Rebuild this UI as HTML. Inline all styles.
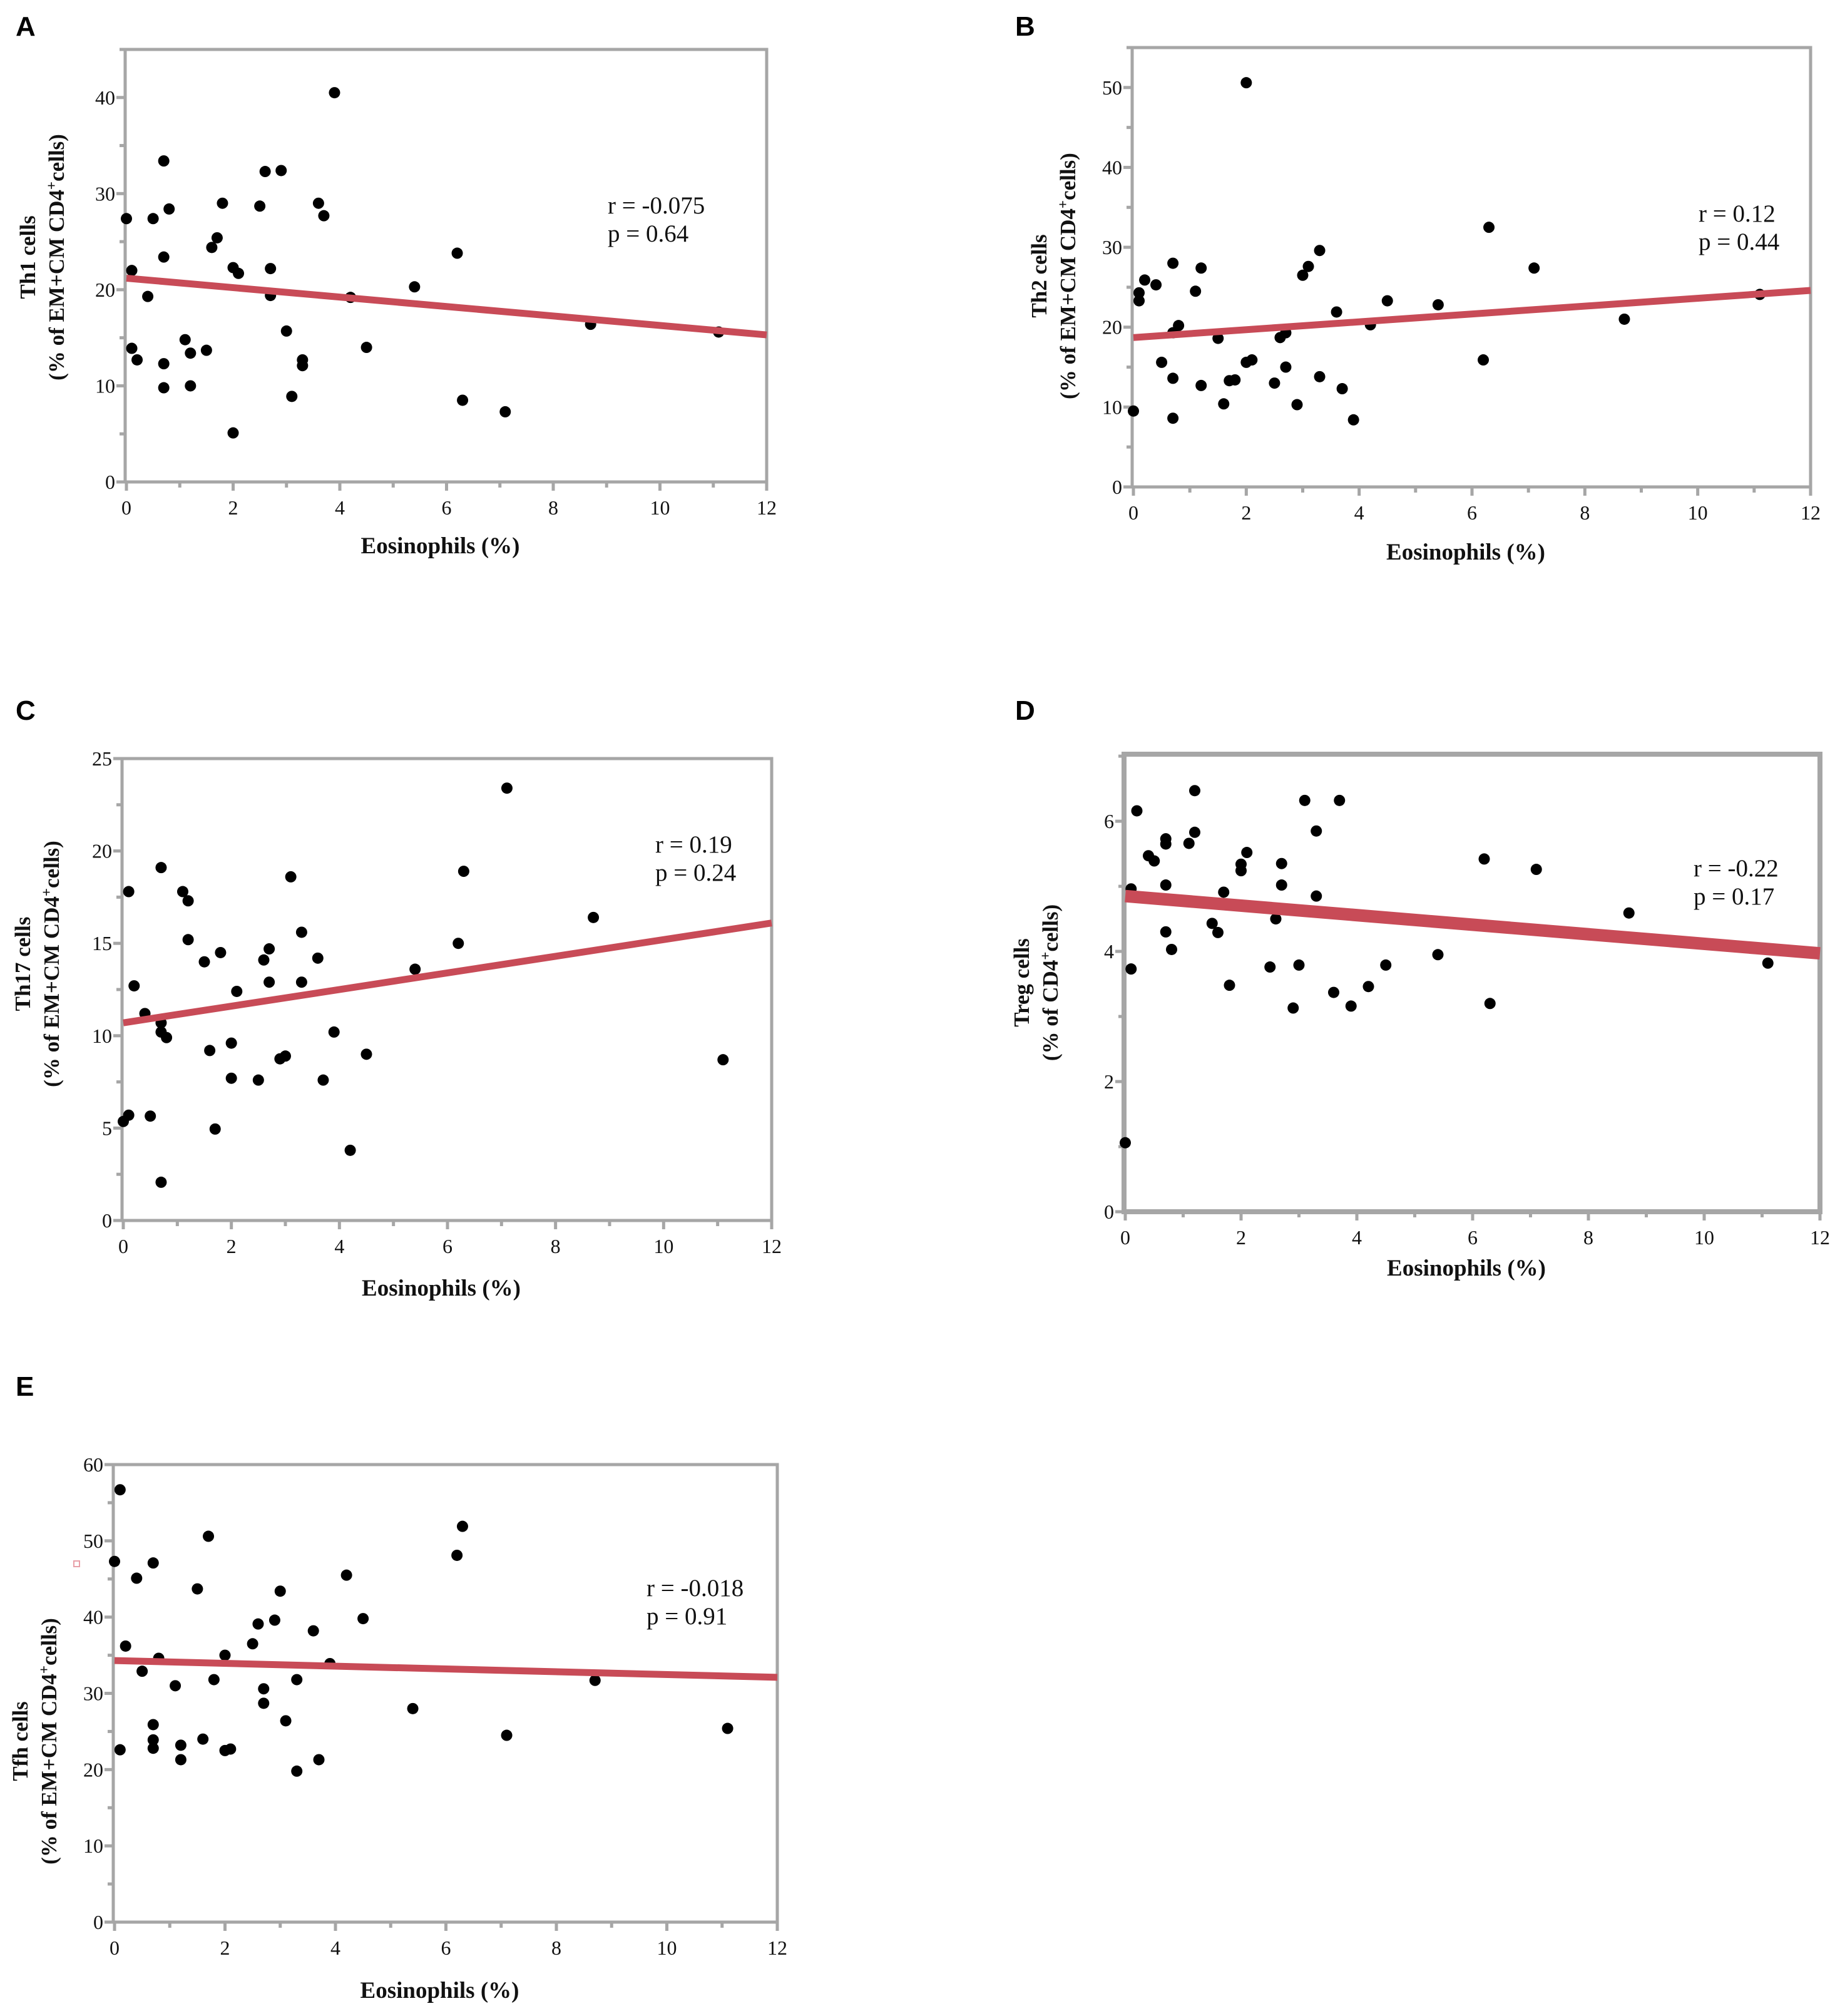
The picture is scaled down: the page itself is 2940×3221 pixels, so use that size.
<!DOCTYPE html>
<html><head><meta charset="utf-8"><style>
html,body{margin:0;padding:0;background:#fff;}
svg{display:block;}
</style></head><body>
<svg id="fig" xmlns="http://www.w3.org/2000/svg" width="2940" height="3221" viewBox="0 0 2940 3221"></svg>
<script>
// ---------- data ----------
const xA = [0,0.1,0.1,0.2,0.4,0.5,0.7,0.7,0.7,0.7,0.8,1.1,1.2,1.2,1.5,1.6,1.7,1.8,2.0,2.0,2.1,2.5,2.6,2.7,2.7,2.9,3.0,3.1,3.3,3.3,3.6,3.7,3.9,4.2,4.5,5.4,6.2,6.3,7.1,8.7,11.1];
const yA = [27.4,22.0,13.9,12.7,19.3,27.4,33.4,23.4,12.3,9.8,28.4,14.8,13.4,10.0,13.7,24.4,25.4,29.0,22.3,5.1,21.7,28.7,32.3,22.2,19.4,32.4,15.7,8.9,12.7,12.1,29.0,27.7,40.5,19.2,14.0,20.3,23.8,8.5,7.3,16.4,15.6];
const fitA = [21.2,15.3];
const xB = [0,0.1,0.1,0.2,0.4,0.5,0.7,0.7,0.7,0.7,0.8,1.1,1.2,1.2,1.5,1.6,1.7,1.8,2.0,2.0,2.1,2.5,2.6,2.7,2.7,2.9,3.0,3.1,3.3,3.3,3.6,3.7,3.9,4.2,4.5,5.4,6.2,6.3,7.1,8.7,11.1];
const yB = [9.5,24.3,23.3,25.9,25.3,15.6,28.0,19.3,13.6,8.6,20.2,24.5,27.4,12.7,18.6,10.4,13.3,13.4,50.6,15.6,15.9,13.0,18.7,19.3,15.0,10.3,26.5,27.6,29.6,13.8,21.9,12.3,8.4,20.3,23.3,22.8,15.9,32.5,27.4,21.0,24.1];
const fitB = [18.7,24.6];
const xC = [0,0.1,0.1,0.2,0.4,0.5,0.7,0.7,0.7,0.7,0.8,1.1,1.2,1.2,1.5,1.6,1.7,1.8,2.0,2.0,2.1,2.5,2.6,2.7,2.7,2.9,3.0,3.1,3.3,3.3,3.6,3.7,3.9,4.2,4.5,5.4,6.2,6.3,7.1,8.7,11.1];
const yC = [5.36,17.8,5.7,12.7,11.2,5.65,19.1,10.7,10.2,2.07,9.9,17.8,17.3,15.2,14.0,9.2,4.95,14.5,9.6,7.7,12.4,7.6,14.1,14.7,12.9,8.75,8.9,18.6,15.6,12.9,14.2,7.6,10.2,3.8,9.0,13.6,15.0,18.9,23.4,16.4,8.7];
const fitC = [10.7,16.1];
const xD = [0,0.1,0.1,0.2,0.4,0.5,0.7,0.7,0.7,0.7,0.8,1.1,1.2,1.2,1.5,1.6,1.7,1.8,2.0,2.0,2.1,2.5,2.6,2.7,2.7,2.9,3.0,3.1,3.3,3.3,3.6,3.7,3.9,4.2,4.5,5.4,6.2,6.3,7.1,8.7,11.1];
const yD = [1.06,4.96,3.73,6.16,5.47,5.39,5.73,5.65,5.02,4.30,4.03,5.66,6.47,5.83,4.43,4.29,4.91,3.48,5.34,5.24,5.52,3.76,4.50,5.35,5.02,3.13,3.79,6.32,5.85,4.85,3.37,6.32,3.16,3.46,3.79,3.95,5.42,3.20,5.26,4.59,3.82];
const fitD = [4.85,3.97];
const xE = [0,0.1,0.1,0.2,0.4,0.5,0.7,0.7,0.7,0.7,0.8,1.1,1.2,1.2,1.5,1.6,1.7,1.8,2.0,2.0,2.1,2.5,2.6,2.7,2.7,2.9,3.0,3.1,3.3,3.3,3.6,3.7,3.9,4.2,4.5,5.4,6.2,6.3,7.1,8.7,11.1];
const yE = [47.3,56.7,22.6,36.2,45.1,32.9,47.1,25.9,23.9,22.8,34.6,31.0,23.2,21.3,43.7,24.0,50.6,31.8,35.0,22.5,22.7,36.5,39.1,30.6,28.7,39.6,43.4,26.4,31.8,19.8,38.2,21.3,33.9,45.5,39.8,28.0,48.1,51.9,24.5,31.7,25.4];
const fitE = [34.3,32.1];
const xTicks = [0,2,4,6,8,10,12];
const yTicksA = [0,10,20,30,40];
const yTicksB = [0,10,20,30,40,50];
const yTicksC = [0,5,10,15,20,25];
const yTicksD = [0,2,4,6];
const yTicksE = [0,10,20,30,40,50,60];
const statsA = ["r = -0.075","p = 0.64"];
const statsB = ["r = 0.12","p = 0.44"];
const statsC = ["r = 0.19","p = 0.24"];
const statsD = ["r = -0.22","p = 0.17"];
const statsE = ["r = -0.018","p = 0.91"];

const NS = "http://www.w3.org/2000/svg";
const svg = document.getElementById('fig');
function mk(tag, attrs, parent, txt){
  const e = document.createElementNS(NS, tag);
  for (const k in attrs) e.setAttribute(k, attrs[k]);
  if (txt !== undefined) e.textContent = txt;
  (parent || svg).appendChild(e);
  return e;
}
const GRAY = "#a6a6a6", RED = "#c84b57";
const SERIF = "'Liberation Serif', serif";

function panel(p){
  const g = mk('g', {});
  
  
  const sx = v => p.x0 + (v / 12) * (p.x1 - p.x0);
  const sy = v => p.yb - (v / p.ymax) * (p.yb - p.yt);
  const L = mk('text', {x:p.lx, y:p.ly, 'font-family':"'Liberation Sans', sans-serif", 'font-weight':'bold', 'font-size':44, fill:'#000'}, g, p.id);
  
  
  const fr = mk('rect', {x:p.x0 - 2, y:p.yt, width:p.x1 - p.x0 + 2, height:p.yb - p.yt, fill:'none', stroke:GRAY, 'stroke-width':p.fw}, g);
  
  
  for (let v = 0; v <= 12; v++){
    const major = v % 2 === 0;
    const t = mk('line', {x1:sx(v), x2:sx(v), y1:p.yb, y2:p.yb + (major ? 14 : 9), stroke:GRAY, 'stroke-width':5}, g);
    
    
  }
  xTicks.forEach(v => {
    const t = mk('text', {x:sx(v), y:p.yb + 52, 'text-anchor':'middle', 'font-family':SERIF, 'font-size':32, fill:'#111'}, g, String(v));
    
    
  });
  const step = p.yticks[1] - p.yticks[0];
  for (let v = 0; v <= p.ymax + 1e-6; v += step / 2){
    const major = Math.abs((v / step) - Math.round(v / step)) < 1e-6;
    const t = mk('line', {x1:p.x0 - 2, x2:p.x0 - 2 - (major ? 14 : 9), y1:sy(v), y2:sy(v), stroke:GRAY, 'stroke-width':5}, g);
    
    
  }
  p.yticks.forEach(v => {
    const t = mk('text', {x:p.x0 - 18, y:sy(v) + 11, 'text-anchor':'end', 'font-family':SERIF, 'font-size':32, fill:'#111'}, g, String(v));
    
    
  });
  const xt = mk('text', {x:(p.x0 + p.x1) / 2 - 10, y:p.xty, 'text-anchor':'middle', 'font-family':SERIF, 'font-weight':'bold', 'font-size':37, fill:'#111'}, g, 'Eosinophils (%)');
  
  
  const yt = mk('text', {transform:`translate(${p.ytx},${p.ytc}) rotate(-90)`, 'text-anchor':'middle', 'font-family':SERIF, 'font-weight':'bold', 'font-size':35, fill:'#111'}, g);
  
  
  mk('tspan', {x:0, y:0}, yt, p.ytitle);
  mk('tspan', {x:0, y:46}, yt, p.ysub1);
  mk('tspan', {dy:-12, 'font-size':23}, yt, '+');
  mk('tspan', {dy:12}, yt, p.ysub2);
  p.xs.forEach((xv, i) => {
    const c = mk('circle', {cx:sx(xv), cy:sy(p.ys[i]), r:9, fill:'#000'}, g);
    
    
  });
  const ln = mk('line', {x1:sx(0), y1:sy(p.fit[0]), x2:sx(12), y2:sy(p.fit[1]), stroke:RED, 'stroke-width':p.lw}, g);
  
  
  p.stats.forEach((s, i) => {
    const t = mk('text', {x:p.sx, y:p.sy + i * 45, 'font-family':SERIF, 'font-size':39, fill:'#111'}, g, s);
    
    
  });
}

panel({id:'A', lx:25, ly:57, x0:202, x1:1225, yb:770, yt:79, ymax:45, yticks:yTicksA, xs:xA, ys:yA, fit:fitA, lw:11, fw:5,
  xty:884, ytx:56, ytc:411, ytitle:'Th1 cells', ysub1:'(% of EM+CM CD4', ysub2:'cells)', stats:statsA, sx:971, sy:341});
panel({id:'B', lx:1622, ly:57, x0:1811, x1:2893, yb:778, yt:76, ymax:55, yticks:yTicksB, xs:xB, ys:yB, fit:fitB, lw:11, fw:5,
  xty:894, ytx:1672, ytc:441, ytitle:'Th2 cells', ysub1:'(% of EM+CM CD4', ysub2:'cells)', stats:statsB, sx:2714, sy:354});
panel({id:'C', lx:25, ly:1150, x0:197, x1:1233, yb:1950, yt:1212, ymax:25, yticks:yTicksC, xs:xC, ys:yC, fit:fitC, lw:11, fw:5,
  xty:2070, ytx:48, ytc:1540, ytitle:'Th17 cells', ysub1:'(% of EM+CM CD4', ysub2:'cells)', stats:statsC, sx:1047, sy:1362});
panel({id:'D', lx:1622, ly:1150, x0:1798, x1:2908, yb:1936, yt:1205, ymax:7.03, yticks:yTicksD, xs:xD, ys:yD, fit:fitD, lw:20, fw:8,
  xty:2038, ytx:1644, ytc:1570, ytitle:'Treg cells', ysub1:'(% of CD4', ysub2:'cells)', stats:statsD, sx:2706, sy:1400});
panel({id:'E', lx:25, ly:2230, x0:183, x1:1242, yb:3071, yt:2340, ymax:60, yticks:yTicksE, xs:xE, ys:yE, fit:fitE, lw:11, fw:5,
  xty:3192, ytx:44, ytc:2782, ytitle:'Tfh cells', ysub1:'(% of EM+CM CD4', ysub2:'cells)', stats:statsE, sx:1033, sy:2550});

const art = mk('rect', {x:118, y:2494, width:9, height:9, fill:'none', stroke:'#e8a0a8', 'stroke-width':2});


</script>
</body></html>
